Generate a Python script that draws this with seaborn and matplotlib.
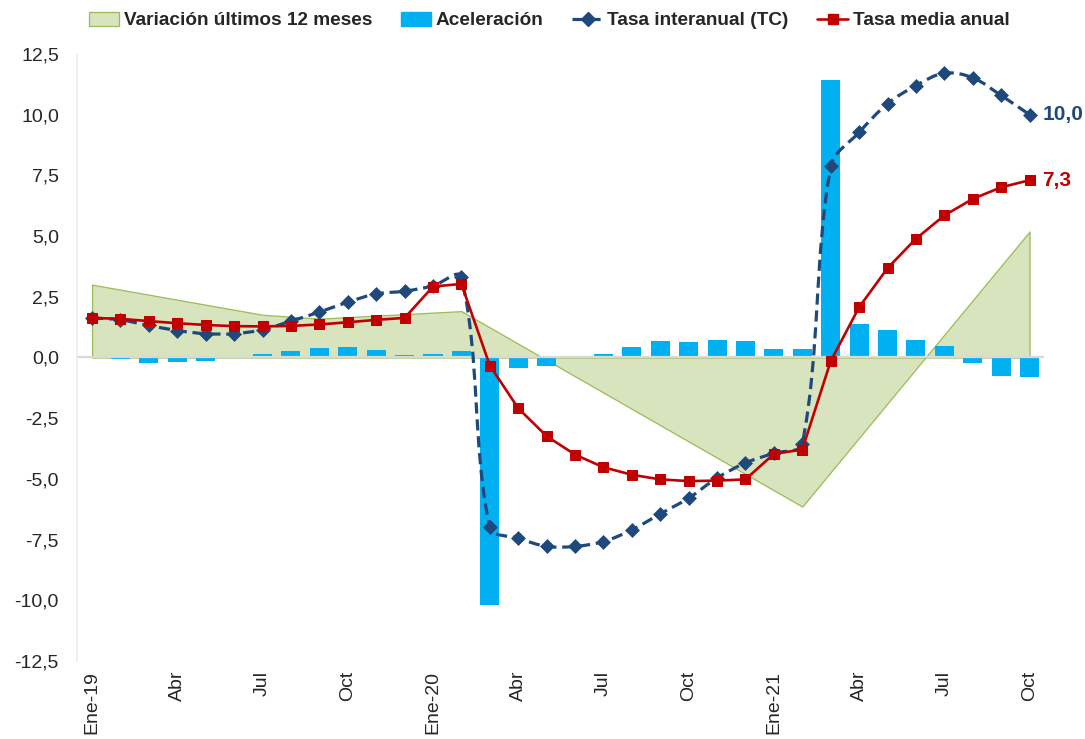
import numpy as np
import pandas as pd
import seaborn as sns
import matplotlib.pyplot as plt
from matplotlib.path import Path
from matplotlib.patches import PathPatch, Patch
from matplotlib.lines import Line2D

# meses Ene-19 .. Oct-21
meses = list(range(34))
tick_pos = list(range(0, 34, 3))
tick_labels = ['Ene-19', 'Abr', 'Jul', 'Oct', 'Ene-20', 'Abr', 'Jul', 'Oct',
               'Ene-21', 'Abr', 'Jul', 'Oct']

tasa_tc = [1.63, 1.55, 1.32, 1.11, 0.98, 0.98, 1.14, 1.50, 1.87, 2.28, 2.62, 2.73,
           2.95, 3.31, -7.00, -7.44, -7.78, -7.78, -7.58, -7.10, -6.44, -5.79,
           -4.96, -4.34, -3.94, -3.55, 7.87, 9.27, 10.45, 11.20, 11.71, 11.52,
           10.79, 10.00]
tasa_media = [1.63, 1.59, 1.50, 1.41, 1.34, 1.29, 1.28, 1.30, 1.36, 1.45, 1.55, 1.63,
              2.92, 3.03, -0.33, -2.09, -3.24, -4.00, -4.52, -4.83, -5.02, -5.09,
              -5.07, -5.02, -3.97, -3.79, -0.15, 2.07, 3.68, 4.89, 5.85, 6.53,
              7.01, 7.30]
aceleracion = [0.05, -0.05, -0.23, -0.19, -0.15, 0.0, 0.16, 0.27, 0.40, 0.44, 0.29,
               0.12, 0.16, 0.25, -10.19, -0.44, -0.34, 0.0, 0.16, 0.45, 0.66, 0.65,
               0.70, 0.66, 0.33, 0.33, 11.44, 1.36, 1.15, 0.74, 0.48, -0.23, -0.77,
               -0.81]
# variacion ultimos 12 meses (puntos de quiebre)
var_x = [0, 6, 8, 13, 25, 33]
var_12m = [3.00, 1.76, 1.60, 1.91, -6.14, 5.19]

C_AREA, C_AREA_EDGE = '#D7E4BD', '#9BBB59'
C_BAR = '#00B0F0'
C_TC = '#1F497D'
C_MED = '#C00000'
TC_DASH = (0, (3.5, 1.8))

df = pd.DataFrame({'mes': meses, 'tc': tasa_tc, 'media': tasa_media, 'acel': aceleracion})

sns.set_style('white')
plt.rcParams['font.family'] = ['Liberation Sans', 'DejaVu Sans']

fig = plt.figure(figsize=(10.85, 7.39), dpi=100)
ax = fig.add_axes([0.071, 0.1055, 0.891, 0.8215])

ax.fill_between(var_x, var_12m, 0, facecolor=C_AREA, edgecolor=C_AREA_EDGE,
                linewidth=0.9, zorder=1)

sns.barplot(data=df, x='mes', y='acel', color=C_BAR, saturation=1, width=0.67,
            errorbar=None, linewidth=0, ax=ax, zorder=2)

ax.axhline(0, color='#D9D9D9', linewidth=1.6, zorder=2.5)


def smooth_path(xs, ys, sx=28.4, sy=24.3):
    """Curva suavizada tipo Excel (Bezier con tangentes escaladas por segmento)."""
    p = np.column_stack([np.asarray(xs, float) * sx, np.asarray(ys, float) * sy])
    n = len(p)
    tang = []
    for i in range(n):
        d = p[min(i + 1, n - 1)] - p[max(i - 1, 0)]
        tang.append(d / np.hypot(*d))
    verts, codes = [tuple(p[0])], [Path.MOVETO]
    for i in range(n - 1):
        seg = np.hypot(*(p[i + 1] - p[i])) / 3
        c1 = p[i] + tang[i] * seg
        c2 = p[i + 1] - tang[i + 1] * seg
        verts += [tuple(c1), tuple(c2), tuple(p[i + 1])]
        codes += [Path.CURVE4] * 3
    verts = np.array(verts) / [sx, sy]
    return Path(verts, codes)


ax.add_patch(PathPatch(smooth_path(df['mes'], df['tc']), fill=False, edgecolor=C_TC,
                       linewidth=2.3, linestyle=TC_DASH, zorder=3))
sns.scatterplot(data=df, x='mes', y='tc', marker='D', s=50, color=C_TC,
                edgecolor=C_TC, linewidth=0.5, ax=ax, zorder=4)

sns.lineplot(data=df, x='mes', y='media', color=C_MED, linewidth=1.9, marker='s',
             markersize=6.7, markeredgecolor=C_MED, ax=ax, zorder=5)

ax.text(df['mes'].iloc[-1] + 0.45, tasa_tc[-1], '10,0', color=C_TC, fontsize=15,
        fontweight='bold', va='center', ha='left')
ax.text(df['mes'].iloc[-1] + 0.45, tasa_media[-1], '7,3', color=C_MED, fontsize=15,
        fontweight='bold', va='center', ha='left')

ax.set_xlim(-0.53, 33.5)
ax.set_ylim(-12.5, 12.5)
yt = np.arange(-12.5, 12.6, 2.5)
ax.set_yticks(yt)
ax.set_yticklabels([f'{v:.1f}'.replace('.', ',') for v in yt], fontsize=14)
ax.set_xticks(tick_pos)
ax.set_xticklabels(tick_labels, rotation=90, fontsize=14)
ax.tick_params(axis='both', length=0)
ax.tick_params(axis='y', pad=13)
ax.tick_params(axis='x', pad=7)
ax.set_xlabel('')
ax.set_ylabel('')

for s in ['top', 'right', 'bottom']:
    ax.spines[s].set_visible(False)
ax.spines['left'].set_color('#EEEEE6')
ax.spines['left'].set_linewidth(1.2)

handles = [
    Patch(facecolor=C_AREA, edgecolor=C_AREA_EDGE, linewidth=0.9),
    Patch(facecolor=C_BAR, edgecolor=C_BAR),
    Line2D([], [], color=C_TC, linewidth=2.3, linestyle=TC_DASH, marker='D',
           markersize=7),
    Line2D([], [], color=C_MED, linewidth=1.9, marker='s', markersize=6.7),
]
labels = ['Variación últimos 12 meses', 'Aceleración', 'Tasa interanual (TC)',
          'Tasa media anual']
fig.legend(handles, labels, loc='center', bbox_to_anchor=(0.506, 0.972), ncol=4,
           frameon=False, prop={'size': 13.7, 'weight': 'bold'}, handlelength=1.6,
           handletextpad=0.25, columnspacing=1.5, handleheight=0.75)

fig.savefig('out.png', dpi=100)
